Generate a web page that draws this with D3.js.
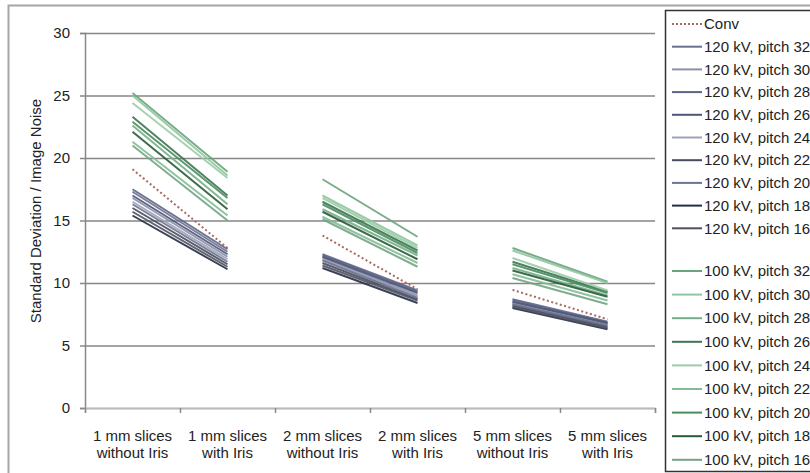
<!DOCTYPE html>
<html><head><meta charset="utf-8">
<script src="https://cdn.jsdelivr.net/npm/d3@7"></script>
<style>
body{margin:0;background:#fff;}
text{font-family:"Liberation Sans",Arial,sans-serif;fill:#222;}
</style></head>
<body><svg id="c" width="810" height="473"></svg>
<script>
const categories = [["1 mm slices","without Iris"],["1 mm slices","with Iris"],["2 mm slices","without Iris"],["2 mm slices","with Iris"],["5 mm slices","without Iris"],["5 mm slices","with Iris"]];
const yTicks = [0,5,10,15,20,25,30];
const yTitle = "Standard Deviation / Image Noise";

const conv = [19.1, 12.8, 13.8, 9.5, 9.45, 7.1];

const kv120Pitch32 = [17.3, 12.5, 12.2, 9.3, 8.6, 6.8];
const kv120Pitch30 = [16.8, 12.1, 12.0, 9.0, 8.4, 6.7];
const kv120Pitch28 = [17.5, 12.7, 12.3, 9.4, 8.7, 6.9];
const kv120Pitch26 = [17.0, 12.3, 12.1, 9.2, 8.5, 6.8];
const kv120Pitch24 = [16.5, 11.9, 11.9, 8.9, 8.3, 6.6];
const kv120Pitch22 = [16.0, 11.5, 11.6, 8.7, 8.2, 6.5];
const kv120Pitch20 = [16.3, 11.7, 11.8, 8.8, 8.3, 6.6];
const kv120Pitch18 = [15.4, 11.1, 11.2, 8.4, 8.0, 6.3];
const kv120Pitch16 = [15.7, 11.3, 11.4, 8.6, 8.1, 6.4];

const kv100Pitch32 = [25.2, 18.9, 18.3, 13.7, 12.8, 10.1];
const kv100Pitch30 = [25.0, 18.6, 17.0, 13.0, 12.6, 10.0];
const kv100Pitch28 = [22.6, 16.3, 15.9, 12.2, 11.2, 9.0];
const kv100Pitch26 = [23.3, 17.0, 16.5, 12.6, 11.7, 9.3];
const kv100Pitch24 = [24.4, 18.4, 16.8, 12.8, 12.0, 9.4];
const kv100Pitch22 = [21.3, 15.4, 15.3, 11.6, 10.7, 8.6];
const kv100Pitch20 = [22.9, 16.8, 16.3, 12.4, 11.5, 9.2];
const kv100Pitch18 = [22.1, 15.9, 15.7, 11.9, 11.0, 8.9];
const kv100Pitch16 = [21.0, 15.0, 15.1, 11.3, 10.4, 8.3];

const seriesNames = ["Conv",
 "120 kV, pitch 32","120 kV, pitch 30","120 kV, pitch 28","120 kV, pitch 26","120 kV, pitch 24","120 kV, pitch 22","120 kV, pitch 20","120 kV, pitch 18","120 kV, pitch 16",
 "100 kV, pitch 32","100 kV, pitch 30","100 kV, pitch 28","100 kV, pitch 26","100 kV, pitch 24","100 kV, pitch 22","100 kV, pitch 20","100 kV, pitch 18","100 kV, pitch 16"];
const seriesValues = [conv,
 kv120Pitch32,kv120Pitch30,kv120Pitch28,kv120Pitch26,kv120Pitch24,kv120Pitch22,kv120Pitch20,kv120Pitch18,kv120Pitch16,
 kv100Pitch32,kv100Pitch30,kv100Pitch28,kv100Pitch26,kv100Pitch24,kv100Pitch22,kv100Pitch20,kv100Pitch18,kv100Pitch16];
const seriesColors = ["#a86a60",
 "#6b7191","#8a8fa8","#5d6485","#4e5577","#9ea2b8","#474b5e","#6d7390","#252d48","#50525f",
 "#6aa47c","#8fc6a0","#74ae88","#3a7650","#9ccca9","#84bb96","#4a8c5e","#275a37","#72a482"];

const svg = d3.select("#c");
const L = 85, R = 655, T = 33, B = 408;

// outer frame
svg.append("rect").attr("x",8.5).attr("y",5.5).attr("width",900).attr("height",500)
  .attr("fill","none").attr("stroke","#a6a6a6").attr("stroke-width",2);

const x = d3.scaleBand().domain(d3.range(categories.length)).range([L,R]);
const xLin = d3.scaleLinear().domain([0,categories.length]).range([L,R]);
const y = d3.scaleLinear().domain([0,30]).range([B,T]);

// gridlines
svg.append("g").attr("transform",`translate(${L},0)`)
  .call(d3.axisLeft(y).tickValues(yTicks).tickSize(-(R-L)).tickFormat(""))
  .call(g=>g.select(".domain").remove())
  .call(g=>g.selectAll("line").attr("stroke","#868686").attr("stroke-width",1.5));

// y axis
svg.append("g").attr("transform",`translate(${L},0)`)
  .call(d3.axisLeft(y).tickValues(yTicks).tickSize(5).tickPadding(10))
  .call(g=>g.select(".domain").attr("stroke","#888").attr("stroke-width",1.5))
  .call(g=>g.selectAll("line").attr("stroke","#888").attr("stroke-width",1.5))
  .call(g=>g.selectAll("text").attr("font-size",15).attr("fill","#222"));

// x axis
svg.append("g").attr("transform",`translate(0,${B})`)
  .call(d3.axisBottom(xLin).tickValues(d3.range(categories.length+1)).tickSize(5).tickFormat(""))
  .call(g=>g.select(".domain").attr("stroke","#bbb").attr("stroke-width",1.5))
  .call(g=>g.selectAll("line").attr("stroke","#888").attr("stroke-width",1.5));

const cl = svg.append("g");
categories.forEach((c,i)=>{
  const t = cl.append("text").attr("text-anchor","middle").attr("font-size",15)
    .attr("x", x(i)+x.bandwidth()/2).attr("y", B+33);
  t.append("tspan").attr("x", x(i)+x.bandwidth()/2).text(c[0]);
  t.append("tspan").attr("x", x(i)+x.bandwidth()/2).attr("dy",17).text(c[1]);
});

svg.append("text").attr("transform",`translate(41,211) rotate(-90)`)
  .attr("text-anchor","middle").attr("font-size",15).text(yTitle);

// lines (pairs)
const cx = i => x(i)+x.bandwidth()/2;
const lineGen = d3.line().x(d=>cx(d.i)).y(d=>y(d.v));
const order = d3.range(seriesValues.length).slice(1).concat([0]);
order.forEach(s=>{
  const vals = seriesValues[s];
  [0,2,4].forEach(p=>{
    svg.append("path")
      .attr("d", lineGen([{i:p,v:vals[p]},{i:p+1,v:vals[p+1]}]))
      .attr("fill","none").attr("stroke",seriesColors[s])
      .attr("stroke-width", 2)
      .attr("stroke-dasharray", s===0 ? "2,2.5" : null)
      .attr("opacity", s===0 ? 1 : 0.9);
  });
});

// legend
svg.append("rect").attr("x",665.5).attr("y",10.5).attr("width",200).attr("height",461)
  .attr("fill","#fff").attr("stroke","#333").attr("stroke-width",1.5);
const legY = i => i < 10 ? 24 + i*22.7 : 271 + (i-10)*23.6;
const lg = svg.append("g");
seriesNames.forEach((n,i)=>{
  const yy = legY(i);
  lg.append("line").attr("x1",672).attr("x2",702).attr("y1",yy).attr("y2",yy)
    .attr("stroke",seriesColors[i]).attr("stroke-width",2)
    .attr("stroke-dasharray", i===0 ? "2,2" : null);
  lg.append("text").attr("x",704).attr("y",yy).attr("dy","0.35em").attr("font-size",15).text(n);
});
</script></body></html>
